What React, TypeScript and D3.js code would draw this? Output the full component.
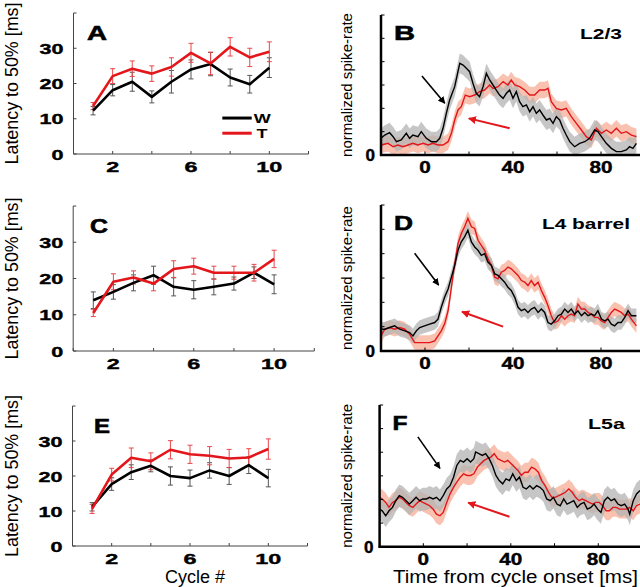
import React from "react";
import * as d3 from "d3";

// ---------- Left panels: latency to 50% per cycle ----------
const cycles = [1, 2, 3, 4, 5, 6, 7, 8, 9, 10];
const cycleTicks = [0, 2, 4, 6, 8, 10, 12];
const cycleTickLabels = [2, 6, 10];
const latencyTicks = [0, 10, 20, 30, 40];
const latencyTickLabels = [0, 10, 20, 30];

const latAW = [12.3, 18.1, 20.5, 16.2, 20.5, 24.0, 25.5, 21.7, 19.8, 24.5];
const latAWErr = [1.2, 1.6, 2.7, 1.7, 3.2, 2.7, 3.3, 2.4, 2.5, 2.8];
const latAT = [13.6, 22.1, 24.2, 22.8, 24.7, 28.7, 25.7, 30.4, 27.4, 29.0];
const latATErr = [1.0, 2.1, 2.2, 2.2, 2.6, 2.7, 3.2, 2.6, 2.6, 2.8];

const latCW = [14.0, 16.3, 18.8, 20.9, 17.7, 16.9, 17.7, 18.6, 21.6, 18.4];
const latCWErr = [2.3, 2.0, 2.2, 2.5, 2.5, 2.5, 2.2, 1.8, 1.6, 2.6];
const latCT = [10.5, 19.1, 20.3, 18.6, 22.6, 23.4, 21.6, 21.6, 21.6, 25.4];
const latCTErr = [1.0, 2.2, 1.8, 2.0, 2.3, 2.2, 1.8, 1.8, 2.3, 2.4];

const latEW = [11.2, 17.7, 21.1, 22.9, 20.0, 19.4, 21.6, 20.0, 23.1, 19.4];
const latEWErr = [1.2, 1.8, 2.1, 1.7, 2.6, 2.3, 2.2, 2.4, 2.4, 2.5];
const latET = [10.6, 20.4, 25.2, 24.2, 27.5, 26.2, 25.8, 25.0, 25.3, 27.7];
const latETErr = [1.3, 1.8, 2.8, 2.4, 2.6, 2.6, 2.6, 2.6, 2.5, 2.9];

// ---------- Right panels: normalized spike-rate vs time ----------
const timeTicks = [-20, 0, 20, 40, 60, 80, 100];
const timeTickLabels = [0, 40, 80];
const rateTicks = [0, 0.2, 0.4, 0.6, 0.8, 1.0, 1.2];

const bTimeW = [-20, -18.3, -16.1, -14.5, -13, -10.8, -8.5, -7, -5.5, -3.2, -1.7, 0.6, 2.9, 5.2, 6.7, 8.2, 9.7, 11.2, 13.5, 15.8, 17.3, 18.8, 20.3, 21.8, 23.3, 24.8, 26.4, 27.9, 29.4, 30.9, 32.4, 33.9, 35.5, 37, 38.5, 40, 41.5, 43, 44.5, 46.1, 47.6, 49.1, 50.6, 52.1, 53.6, 55.2, 56.7, 58.2, 59.7, 61.2, 62.7, 64.2, 65.8, 68, 70.3, 72.6, 74.8, 77.1, 78.6, 80.2, 82.4, 84.7, 87, 89.2, 91.5, 93, 94.5, 96.1];
const bRateW = [0.143, 0.171, 0.191, 0.157, 0.114, 0.129, 0.186, 0.143, 0.171, 0.157, 0.2, 0.143, 0.114, 0.114, 0.143, 0.229, 0.357, 0.471, 0.586, 0.786, 0.771, 0.743, 0.714, 0.614, 0.529, 0.5, 0.586, 0.7, 0.643, 0.6, 0.557, 0.514, 0.486, 0.529, 0.557, 0.486, 0.543, 0.457, 0.414, 0.429, 0.371, 0.414, 0.357, 0.386, 0.343, 0.3, 0.314, 0.271, 0.329, 0.3, 0.229, 0.171, 0.114, 0.071, 0.1, 0.114, 0.143, 0.214, 0.2, 0.157, 0.1, 0.057, 0.029, 0.029, 0.043, 0.071, 0.057, 0.1];
const bTimeT = [-20, -16.8, -14.5, -12.3, -10, -7.7, -5.5, -3.2, -0.9, 1.4, 3.6, 5.9, 8.2, 10.5, 12, 13.5, 15, 16.5, 18.3, 20.3, 22.6, 24.8, 27.1, 29.4, 30.9, 33.2, 35.5, 37.7, 39.2, 40.8, 43, 45.3, 47.6, 49.8, 52.1, 54.4, 55.9, 57.4, 59.7, 62, 64.2, 66.5, 68.8, 71.1, 73.3, 75.6, 77.9, 80.2, 82.4, 84.7, 87, 89.2, 91.5, 93.8, 96.1];
const bRateT = [0.086, 0.1, 0.071, 0.086, 0.071, 0.086, 0.1, 0.086, 0.1, 0.086, 0.1, 0.086, 0.086, 0.114, 0.186, 0.3, 0.386, 0.414, 0.514, 0.5, 0.514, 0.543, 0.557, 0.6, 0.571, 0.586, 0.629, 0.6, 0.643, 0.6, 0.586, 0.557, 0.514, 0.514, 0.557, 0.557, 0.571, 0.457, 0.4, 0.386, 0.4, 0.329, 0.271, 0.214, 0.157, 0.129, 0.229, 0.186, 0.214, 0.186, 0.229, 0.186, 0.2, 0.171, 0.157];

const dTimeW = [-20, -18.3, -16.1, -13.8, -11.5, -9.2, -7, -5.5, -3.9, -2.4, -0.2, 2.1, 4.4, 5.9, 7.4, 8.9, 10.5, 12, 13.5, 15, 16.5, 18, 19.5, 21.1, 22.6, 24.1, 25.6, 27.1, 28.6, 30.2, 31.7, 33.2, 34.7, 36.2, 37.7, 39.2, 40.8, 42.3, 43.8, 45.3, 46.8, 48.3, 49.8, 51.4, 52.9, 54.4, 55.9, 57.4, 58.9, 60.5, 62, 63.5, 65, 66.5, 68, 69.5, 71.1, 72.6, 74.1, 75.6, 77.1, 78.6, 80.2, 81.7, 83.2, 84.7, 86.2, 87.7, 89.2, 90.8, 92.3, 93.8, 96.1];
const dRateW = [0.179, 0.179, 0.193, 0.207, 0.179, 0.166, 0.152, 0.124, 0.166, 0.193, 0.207, 0.221, 0.234, 0.262, 0.359, 0.441, 0.51, 0.607, 0.703, 0.828, 0.897, 0.938, 0.993, 0.897, 0.855, 0.828, 0.786, 0.8, 0.731, 0.703, 0.634, 0.621, 0.593, 0.566, 0.524, 0.497, 0.441, 0.359, 0.331, 0.345, 0.317, 0.345, 0.359, 0.317, 0.345, 0.317, 0.234, 0.221, 0.248, 0.29, 0.303, 0.345, 0.317, 0.345, 0.303, 0.331, 0.29, 0.317, 0.29, 0.303, 0.29, 0.331, 0.262, 0.248, 0.262, 0.221, 0.207, 0.234, 0.234, 0.276, 0.331, 0.29, 0.29];
const dTimeT = [-20, -18.3, -16.1, -13.8, -11.5, -9.2, -7, -4.7, -2.4, -0.2, 2.1, 4.4, 5.9, 7.4, 8.9, 10.5, 12, 13.5, 15, 16.5, 18, 19.5, 21.1, 22.6, 24.1, 25.6, 27.1, 28.6, 30.2, 31.7, 33.2, 34.7, 36.2, 37.7, 39.2, 40.8, 42.3, 43.8, 45.3, 46.8, 48.3, 49.8, 51.4, 52.9, 54.4, 55.9, 57.4, 58.9, 60.5, 62, 63.5, 65, 66.5, 68, 69.5, 71.1, 72.6, 74.1, 75.6, 77.1, 78.6, 80.2, 81.7, 83.2, 84.7, 86.2, 87.7, 89.2, 90.8, 92.3, 93.8, 96.1];
const dRateT = [0.124, 0.179, 0.193, 0.179, 0.193, 0.179, 0.138, 0.069, 0.069, 0.069, 0.069, 0.083, 0.124, 0.166, 0.221, 0.331, 0.524, 0.717, 0.883, 0.966, 1.021, 1.09, 1.021, 1.007, 0.91, 0.869, 0.828, 0.759, 0.703, 0.607, 0.593, 0.648, 0.662, 0.69, 0.676, 0.648, 0.621, 0.579, 0.566, 0.538, 0.579, 0.538, 0.566, 0.497, 0.441, 0.372, 0.29, 0.234, 0.248, 0.29, 0.262, 0.29, 0.303, 0.29, 0.386, 0.345, 0.345, 0.317, 0.303, 0.276, 0.276, 0.248, 0.234, 0.276, 0.317, 0.345, 0.331, 0.317, 0.29, 0.303, 0.262, 0.207];

const fTimeW = [-20, -18.8, -17.2, -15.7, -14.1, -12.6, -11, -9.5, -7.9, -6.4, -4.8, -3.3, -1.7, -0.2, 1.4, 2.9, 4.5, 6, 7.6, 9.1, 10.7, 12.2, 13.8, 15.3, 16.9, 18.4, 20, 21.6, 23.1, 23.9, 25.4, 27, 28.5, 30.1, 31.6, 33.2, 34.7, 36.3, 37.8, 39.4, 40.9, 42.5, 44, 45.6, 47.1, 48.7, 50.2, 51.8, 53.3, 54.9, 56.4, 58, 59.5, 61.1, 62.6, 64.2, 65.7, 67.3, 68.8, 70.4, 71.9, 73.5, 75, 76.6, 78.1, 79.7, 81.2, 82.8, 84.3, 85.9, 87.4, 89, 90.5, 92.1, 93.6, 94.4, 96, 97.5, 99.1];
const fRateW = [0.318, 0.304, 0.262, 0.304, 0.333, 0.39, 0.432, 0.418, 0.39, 0.361, 0.39, 0.418, 0.39, 0.404, 0.404, 0.418, 0.404, 0.418, 0.39, 0.432, 0.489, 0.517, 0.589, 0.688, 0.731, 0.717, 0.745, 0.717, 0.745, 0.802, 0.788, 0.773, 0.788, 0.745, 0.688, 0.603, 0.56, 0.532, 0.574, 0.56, 0.617, 0.56, 0.589, 0.503, 0.489, 0.517, 0.489, 0.517, 0.503, 0.475, 0.404, 0.39, 0.418, 0.361, 0.347, 0.404, 0.361, 0.375, 0.39, 0.333, 0.361, 0.375, 0.318, 0.333, 0.361, 0.318, 0.29, 0.39, 0.418, 0.39, 0.404, 0.361, 0.347, 0.361, 0.318, 0.276, 0.39, 0.446, 0.475];
const fTimeT = [-20, -18.8, -17.2, -15.7, -14.1, -12.6, -11, -9.5, -7.9, -6.4, -4.8, -3.3, -1.7, -0.2, 1.4, 2.9, 4.5, 6, 7.6, 9.1, 10.7, 12.2, 13.8, 15.3, 16.9, 18.4, 20, 21.6, 23.1, 24.7, 26.2, 27.8, 29.3, 30.9, 32.4, 34, 35.5, 37.1, 38.6, 40.2, 41.7, 43.3, 44.8, 46.4, 47.9, 49.5, 51, 52.6, 54.1, 55.7, 57.2, 58.8, 60.3, 61.9, 63.4, 65, 66.5, 68.1, 69.6, 71.2, 72.7, 74.3, 75.8, 77.4, 78.9, 80.5, 82, 83.6, 85.1, 86.7, 88.2, 89.8, 91.3, 92.9, 94.4, 96, 97.5, 99.1];
const fRateT = [0.418, 0.404, 0.375, 0.333, 0.375, 0.39, 0.418, 0.404, 0.375, 0.347, 0.333, 0.361, 0.39, 0.375, 0.361, 0.347, 0.318, 0.276, 0.262, 0.29, 0.375, 0.446, 0.503, 0.546, 0.589, 0.617, 0.603, 0.603, 0.617, 0.674, 0.702, 0.731, 0.745, 0.759, 0.788, 0.745, 0.731, 0.717, 0.731, 0.702, 0.674, 0.646, 0.603, 0.631, 0.631, 0.674, 0.66, 0.631, 0.56, 0.517, 0.461, 0.418, 0.418, 0.432, 0.446, 0.461, 0.489, 0.461, 0.418, 0.39, 0.404, 0.39, 0.375, 0.361, 0.375, 0.375, 0.347, 0.304, 0.304, 0.333, 0.333, 0.318, 0.318, 0.318, 0.333, 0.304, 0.347, 0.361];

// SEM band half-widths [W, T] per panel
const semB = [0.085, 0.07];
const semD = [0.06, 0.06];
const semF = [0.095, 0.08];

// arrows: [tStart, vStart, tEnd, vEnd]
const arrowBW = [-1.4, 0.677, 9.0, 0.443];
const arrowBT = [38.5, 0.229, 19.9, 0.314];
const arrowDW = [-4.7, 0.803, 6.2, 0.542];
const arrowDT = [35.5, 0.2, 16.8, 0.323];
const arrowFW = [-2.5, 0.93, 7.6, 0.663];
const arrowFT = [39.4, 0.254, 20.5, 0.373];

const FONT = "'Liberation Sans', Arial, Helvetica, sans-serif";
const RED = "#e3161b";

type LeftCfg = {
  letter: string; letterX: number; letterW: number;
  x0: number; x1: number; y0: number; y1: number;
  w: number[]; wErr: number[]; t: number[]; tErr: number[];
  legend?: boolean;
};

function LeftPanel({ c }: { c: LeftCfg }) {
  const x = d3.scaleLinear().domain([0, 12]).range([c.x0, c.x1]);
  const y = d3.scaleLinear().domain([0, 40]).range([c.y0, c.y1]);
  const line = d3.line<number>().x((_, i) => x(cycles[i])).y((d) => y(d));
  const bars = (vals: number[], errs: number[], color: string) =>
    vals.map((v, i) => {
      const cx = x(cycles[i]);
      return (
        <g key={i} stroke={color} strokeWidth={1}>
          <line x1={cx} x2={cx} y1={y(v - errs[i])} y2={y(v + errs[i])} />
          <line x1={cx - 2.5} x2={cx + 2.5} y1={y(v - errs[i])} y2={y(v - errs[i])} />
          <line x1={cx - 2.5} x2={cx + 2.5} y1={y(v + errs[i])} y2={y(v + errs[i])} />
        </g>
      );
    });
  return (
    <g fontFamily={FONT}>
      <line x1={c.x0} x2={c.x0} y1={c.y0} y2={c.y1} stroke="#444" strokeWidth={1} />
      <line x1={c.x0} x2={c.x1} y1={c.y0} y2={c.y0} stroke="#444" strokeWidth={1} />
      {latencyTicks.map((v) => (
        <line key={v} x1={c.x0} x2={c.x0 + 3} y1={y(v)} y2={y(v)} stroke="#444" />
      ))}
      {cycleTicks.map((v) => (
        <line key={v} x1={x(v)} x2={x(v)} y1={c.y0} y2={c.y0 - 3} stroke="#444" />
      ))}
      {latencyTickLabels.map((v) => (
        <text key={v} x={c.x0 - 10} y={y(v) + 5.5} textAnchor="end" fontSize={15.5} fontWeight="bold"
          stroke="#000" strokeWidth={0.4}
          textLength={String(v).length * 12} lengthAdjust="spacingAndGlyphs">{v}</text>
      ))}
      {cycleTickLabels.map((v) => (
        <text key={v} x={x(v)} y={c.y0 + 17.5} textAnchor="middle" fontSize={15.5} fontWeight="bold"
          stroke="#000" strokeWidth={0.4}
          textLength={String(v).length * 13} lengthAdjust="spacingAndGlyphs">{v}</text>
      ))}
      {bars(c.w, c.wErr, "#555")}
      {bars(c.t, c.tErr, "#e8474b")}
      <path d={line(c.w) || ""} fill="none" stroke="#000" strokeWidth={2.6} strokeLinejoin="round" />
      <path d={line(c.t) || ""} fill="none" stroke={RED} strokeWidth={2.6} strokeLinejoin="round" />
      <text x={c.letterX} y={c.y1 + 26.5} fontSize={20} fontWeight="bold" stroke="#000" strokeWidth={0.6}
        textLength={c.letterW} lengthAdjust="spacingAndGlyphs">{c.letter}</text>
      <text transform={`translate(18,${(c.y0 + c.y1) / 2}) rotate(-90)`} textAnchor="middle" fontSize={18}
        textLength={162} lengthAdjust="spacingAndGlyphs">Latency to 50% [ms]</text>
      {c.legend && (
        <g>
          <line x1={x(7.6)} x2={x(9.1)} y1={y(10.2)} y2={y(10.2)} stroke="#000" strokeWidth={3} />
          <text x={x(9.2)} y={y(10.2) + 5} fontSize={13} fontWeight="bold" textLength={17} lengthAdjust="spacingAndGlyphs">W</text>
          <line x1={x(7.6)} x2={x(9.1)} y1={y(5.9)} y2={y(5.9)} stroke={RED} strokeWidth={3} />
          <text x={x(9.35)} y={y(5.9) + 5} fontSize={13} fontWeight="bold" textLength={11} lengthAdjust="spacingAndGlyphs">T</text>
        </g>
      )}
    </g>
  );
}

type RightCfg = {
  id: string; letter: string; letterW: number; region: string; regionX: number; regionW: number;
  x0: number; x1: number; y0: number; y1: number;
  tw: number[]; vw: number[]; tt: number[]; vt: number[]; sem: number[];
  aw: number[]; at: number[];
};

function RightPanel({ c }: { c: RightCfg }) {
  const x = d3.scaleLinear().domain([-20, 100]).range([c.x0, c.x1]);
  const y = d3.scaleLinear().domain([0, 1.2]).range([c.y0, c.y1]);
  const ptsW = c.tw.map((t, i) => [t, c.vw[i]] as [number, number]).filter((p) => p[1] !== undefined);
  const ptsT = c.tt.map((t, i) => [t, c.vt[i]] as [number, number]).filter((p) => p[1] !== undefined);
  const line = d3.line<[number, number]>().x((d) => x(d[0])).y((d) => y(d[1]));
  const area = (s: number) =>
    d3.area<[number, number]>().x((d) => x(d[0])).y0((d) => y(Math.max(0, d[1] - s))).y1((d) => y(d[1] + s));
  const arrow = (a: number[], color: string, w: number, m: string) => (
    <line x1={x(a[0])} y1={y(a[1])} x2={x(a[2])} y2={y(a[3])} stroke={color} strokeWidth={w} markerEnd={`url(#${m})`} />
  );
  return (
    <g fontFamily={FONT}>
      <path d={area(c.sem[1])(ptsT) || ""} fill="#f7ad95" fillOpacity={0.75} />
      <path d={area(c.sem[0])(ptsW) || ""} fill="#b3b3b3" fillOpacity={0.75} />
      <path d={line(ptsT) || ""} fill="none" stroke={RED} strokeWidth={1.4} />
      <path d={line(ptsW) || ""} fill="none" stroke="#000" strokeWidth={1.4} />
      <line x1={c.x0} x2={c.x0} y1={c.y0 + 1} y2={c.y1} stroke="#000" strokeWidth={2.5} />
      <line x1={c.x0 - 1} x2={c.x1} y1={c.y0} y2={c.y0} stroke="#000" strokeWidth={2.5} />
      {rateTicks.map((v) => (
        <line key={v} x1={c.x0} x2={c.x0 + 3.5} y1={y(v)} y2={y(v)} stroke="#000" strokeWidth={1} />
      ))}
      {timeTicks.map((v) => (
        <line key={v} x1={x(v)} x2={x(v)} y1={c.y0} y2={c.y0 - 3.5} stroke="#000" strokeWidth={1} />
      ))}
      {timeTickLabels.map((v) => (
        <text key={v} x={x(v)} y={c.y0 + 18} textAnchor="middle" fontSize={16} fontWeight="bold"
          stroke="#000" strokeWidth={0.4}
          textLength={String(v).length * 11.5} lengthAdjust="spacingAndGlyphs">{v}</text>
      ))}
      <text x={c.x0 - 6} y={c.y0 + 6} textAnchor="end" fontSize={16} fontWeight="bold"
        stroke="#000" strokeWidth={0.4}
        textLength={9.5} lengthAdjust="spacingAndGlyphs">0</text>
      {arrow(c.aw, "#000", 1.6, "ahB")}
      {arrow(c.at, RED, 2, "ahR")}
      <text x={c.x0 + 13} y={c.y1 + 25} fontSize={20} fontWeight="bold" stroke="#000" strokeWidth={0.6}
        textLength={c.letterW} lengthAdjust="spacingAndGlyphs">{c.letter}</text>
      <text x={c.regionX} y={c.y1 + 23.5} fontSize={15} fontWeight="bold"
        textLength={c.regionW} lengthAdjust="spacingAndGlyphs">{c.region}</text>
      <text transform={`translate(352,${(c.y0 + c.y1) / 2}) rotate(-90)`} textAnchor="middle" fontSize={15}
        textLength={144} lengthAdjust="spacingAndGlyphs">normalized spike-rate</text>
    </g>
  );
}

const leftPanels: LeftCfg[] = [
  { letter: "A", letterX: 87, letterW: 20, x0: 73.5, x1: 308.5, y0: 154, y1: 13, w: latAW, wErr: latAWErr, t: latAT, tErr: latATErr, legend: true },
  { letter: "C", letterX: 90, letterW: 18, x0: 73.2, x1: 314.3, y0: 351, y1: 206, w: latCW, wErr: latCWErr, t: latCT, tErr: latCTErr },
  { letter: "E", letterX: 94, letterW: 16, x0: 72.5, x1: 307.5, y0: 546, y1: 406, w: latEW, wErr: latEWErr, t: latET, tErr: latETErr },
];

const rightPanels: RightCfg[] = [
  { id: "B", letter: "B", letterW: 21, region: "L2/3", regionX: 580, regionW: 42, x0: 381, x1: 645, y0: 155, y1: 15, tw: bTimeW, vw: bRateW, tt: bTimeT, vt: bRateT, sem: semB, aw: arrowBW, at: arrowBT },
  { id: "D", letter: "D", letterW: 19, region: "L4 barrel", regionX: 542, regionW: 88, x0: 381, x1: 645, y0: 351, y1: 205, tw: dTimeW, vw: dRateW, tt: dTimeT, vt: dRateT, sem: semD, aw: arrowDW, at: arrowDT },
  { id: "F", letter: "F", letterW: 15, region: "L5a", regionX: 588, regionW: 37, x0: 379.6, x1: 642, y0: 546.7, y1: 405, tw: fTimeW, vw: fRateW, tt: fTimeT, vt: fRateT, sem: semF, aw: arrowFW, at: arrowFT },
];

export default function App() {
  return (
    <svg width={640} height={587} style={{ position: "absolute", left: 0, top: 0, background: "#fff" }}>
      <defs>
        <marker id="ahB" viewBox="0 0 10 10" refX="9" refY="5" markerWidth="4.5" markerHeight="4.5" orient="auto">
          <path d="M0,0 L10,5 L0,10 z" fill="#000" />
        </marker>
        <marker id="ahR" viewBox="0 0 10 10" refX="9" refY="5" markerWidth="4" markerHeight="4" orient="auto">
          <path d="M0,0 L10,5 L0,10 z" fill={RED} />
        </marker>
      </defs>
      <rect width={640} height={587} fill="#fff" />
      {leftPanels.map((c) => <LeftPanel key={c.letter} c={c} />)}
      {rightPanels.map((c) => <RightPanel key={c.id} c={c} />)}
      <text x={195} y={583} textAnchor="middle" fontSize={18} fontFamily={FONT}>Cycle #</text>
      <text x={515.5} y={583} textAnchor="middle" fontSize={18} fontFamily={FONT}
        textLength={245} lengthAdjust="spacingAndGlyphs">Time from cycle onset [ms]</text>
    </svg>
  );
}
